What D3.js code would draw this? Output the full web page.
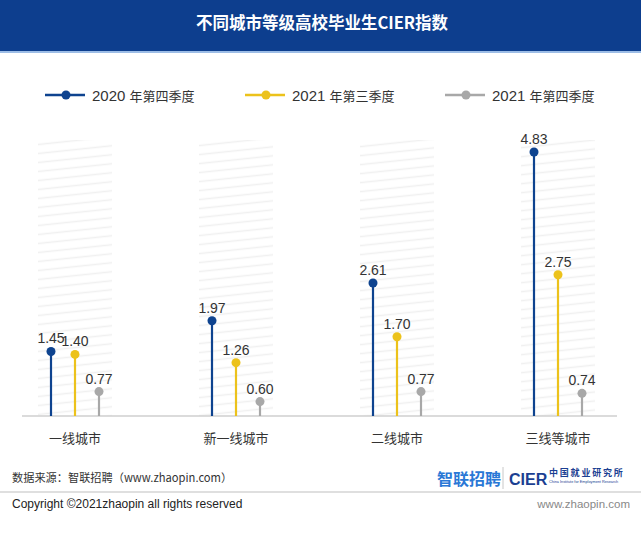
<!DOCTYPE html>
<html><head><meta charset="utf-8">
<script src="https://cdn.jsdelivr.net/npm/d3@7/dist/d3.min.js"></script>
<style>
html,body{margin:0;padding:0;background:#fff;}
svg{display:block;}
text{font-family:"Liberation Sans",Arial,"Noto Sans CJK SC",sans-serif;}
</style></head>
<body>
<script>
const categories = ["一线城市", "新一线城市", "二线城市", "三线等城市"];
const seriesNames = ["2020 年第四季度", "2021 年第三季度", "2021 年第四季度"];
const s2020Q4 = [1.45, 1.97, 2.61, 4.83];
const s2021Q3 = [1.40, 1.26, 1.70, 2.75];
const s2021Q4 = [0.77, 0.60, 0.77, 0.74];
const seriesValues = [s2020Q4, s2021Q3, s2021Q4];
const seriesColors = ["#0e438f", "#ecc21b", "#a8a8a8"];

const W = 641, H = 543;
const svg = d3.select("body").append("svg").attr("width", W).attr("height", H);
const CJK = "\"Noto Sans CJK SC\",\"Liberation Sans\",sans-serif";

// banner
svg.append("rect").attr("x",0).attr("y",0).attr("width",W).attr("height",52).attr("fill","#0d3e8e");
svg.append("rect").attr("x",0).attr("y",51).attr("width",W).attr("height",2).attr("fill","#9dbde6");
svg.append("text").attr("x",322).attr("y",29).attr("text-anchor","middle")
  .attr("fill","#fff").attr("font-size",16.5).attr("font-weight",700)
  .style("font-family",CJK).text("不同城市等级高校毕业生CIER指数");

// hatch pattern
const defs = svg.append("defs");
const pat = defs.append("pattern").attr("id","hatch").attr("patternUnits","userSpaceOnUse")
  .attr("width",80).attr("height",9).attr("patternTransform","skewY(-6)");
pat.append("line").attr("x1",0).attr("x2",80).attr("y1",4.5).attr("y2",4.5)
  .attr("stroke","#f0f0f0").attr("stroke-width",1.3);

const baseY = 416;
const x = d3.scalePoint().domain(categories).range([75, 558]);
const xo = d3.scalePoint().domain(seriesNames).range([-24, 24]);
const y = d3.scaleLinear().domain([0, 5]).range([437, 142]);

// hatched columns
svg.append("g").selectAll("rect").data(categories).join("rect")
  .attr("x", d => x(d) - 37).attr("y", 140).attr("width", 74).attr("height", baseY - 140)
  .attr("fill","url(#hatch)");

// baseline
svg.append("line").attr("x1",22).attr("x2",617).attr("y1",baseY).attr("y2",baseY)
  .attr("stroke","#cfcfcf").attr("stroke-width",1.5);

// lollipops
seriesNames.forEach((s, si) => {
  const g = svg.append("g");
  const data = categories.map((c, i) => ({c, v: seriesValues[si][i]}));
  g.selectAll("line").data(data).join("line")
    .attr("x1", d => x(d.c) + xo(s)).attr("x2", d => x(d.c) + xo(s))
    .attr("y1", baseY).attr("y2", d => y(d.v))
    .attr("stroke", seriesColors[si]).attr("stroke-width", 2.2);
  g.selectAll("circle").data(data).join("circle")
    .attr("cx", d => x(d.c) + xo(s)).attr("cy", d => y(d.v)).attr("r", 4.5)
    .attr("fill", seriesColors[si]);
  g.selectAll("text").data(data).join("text")
    .attr("x", d => x(d.c) + xo(s)).attr("y", d => y(d.v) - 8)
    .attr("text-anchor","middle").attr("font-size",14).attr("fill","#333")
    .text(d => d.v.toFixed(2));
});

// category labels
svg.append("g").selectAll("text").data(categories).join("text")
  .attr("x", d => x(d)).attr("y", 443).attr("text-anchor","middle")
  .attr("font-size",13).attr("fill","#333").style("font-family",CJK).text(d => d);

// legend
const lx = [45, 245, 445];
seriesNames.forEach((s, si) => {
  const g = svg.append("g").attr("transform", `translate(${lx[si]},95)`);
  g.append("line").attr("x1",0).attr("x2",40).attr("y1",0).attr("y2",0)
    .attr("stroke", seriesColors[si]).attr("stroke-width",2.5);
  g.append("circle").attr("cx",21).attr("cy",0).attr("r",4.5).attr("fill",seriesColors[si]);
  const parts = s.split(" ");
  const t = g.append("text").attr("x",47).attr("y",5.5).attr("fill","#333");
  t.append("tspan").attr("font-size",15).text(parts[0] + " ");
  t.append("tspan").attr("font-size",13).style("font-family",CJK).text(parts[1]);
});

// footer
svg.append("text").attr("x",12).attr("y",482).attr("font-size",11.2).attr("fill","#333")
  .style("font-family",CJK).text("数据来源：智联招聘（www.zhaopin.com）");
svg.append("text").attr("x",437).attr("y",485).attr("font-size",16).attr("font-weight",700)
  .attr("fill","#2a78d6").style("font-family",CJK).text("智联招聘");
svg.append("line").attr("x1",503).attr("x2",503).attr("y1",467).attr("y2",489)
  .attr("stroke","#c8c8c8").attr("stroke-width",1);
svg.append("text").attr("x",509).attr("y",485).attr("font-size",16).attr("font-weight",700)
  .attr("fill","#1b3f92").text("CIER");
svg.append("text").attr("x",549).attr("y",476).attr("font-size",9).attr("font-weight",700)
  .attr("fill","#1b3f92").style("font-family",CJK).attr("letter-spacing",1.8).text("中国就业研究所");
svg.append("text").attr("x",549).attr("y",483).attr("font-size",3.8)
  .attr("fill","#1b3f92").text("China Institute for Employment Research");
svg.append("line").attr("x1",0).attr("x2",W).attr("y1",492).attr("y2",492)
  .attr("stroke","#d4d4d4").attr("stroke-width",1.5);
svg.append("text").attr("x",12).attr("y",508).attr("font-size",12).attr("fill","#222")
  .text("Copyright ©2021zhaopin all rights reserved");
svg.append("text").attr("x",630).attr("y",508).attr("text-anchor","end").attr("font-size",11.5)
  .attr("fill","#888").text("www.zhaopin.com");
</script>
</body></html>
